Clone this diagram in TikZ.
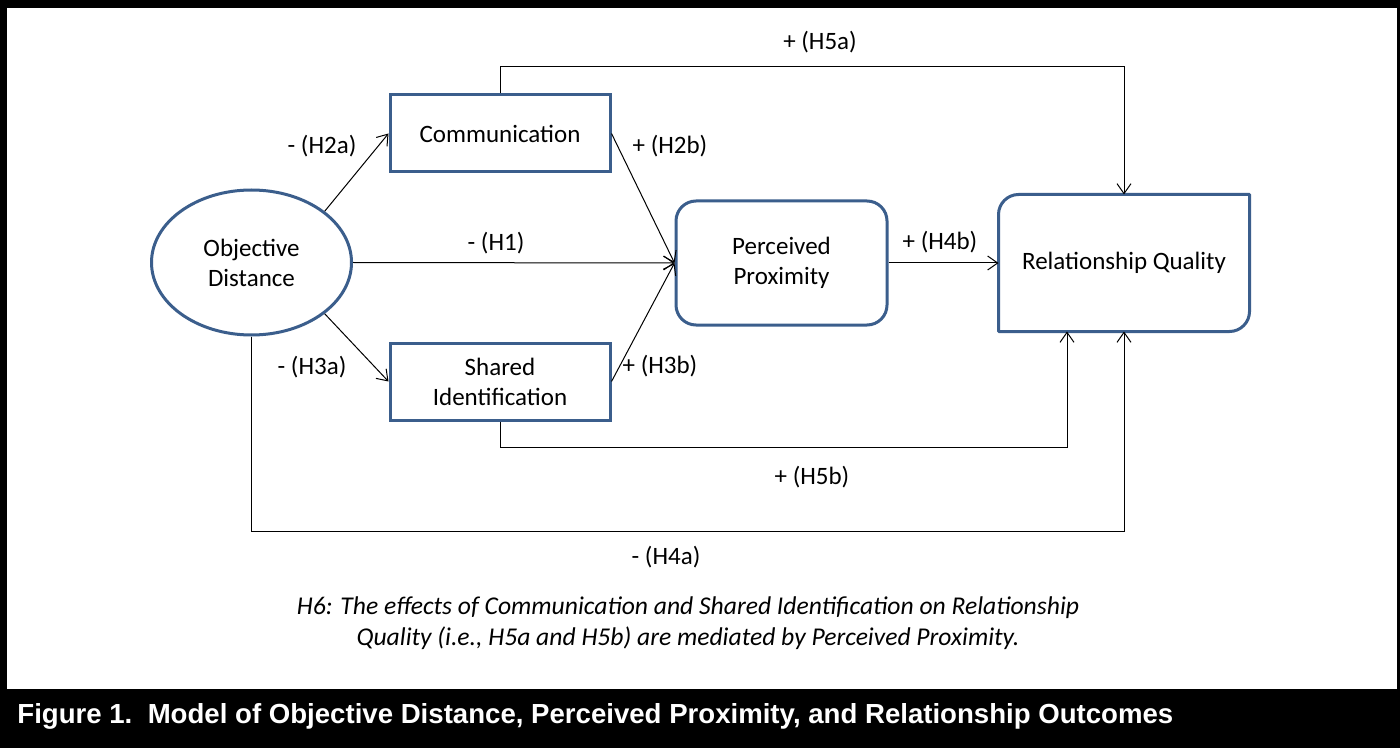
\documentclass[tikz,border=0pt]{standalone}
\usepackage{fontspec}
\setmainfont{Carlito}
\newfontfamily\capfont{Liberation Sans}
\usetikzlibrary{arrows.meta,shapes.geometric,calc}
\definecolor{boxblue}{HTML}{3B5E8C}
\begin{document}
\begin{tikzpicture}[x=0.5pt,y=-0.5pt,
  txt/.style={font=\fontsize{12.5}{15}\selectfont,align=center,inner sep=0pt},
  box/.style={txt,draw=boxblue,line width=1.5pt,minimum width=110pt,minimum height=38.5pt},
  oval/.style={txt,ellipse,draw=boxblue,line width=1.5pt,minimum width=100pt,minimum height=72.5pt},
  roundbox/.style={txt,draw=boxblue,line width=1.5pt,rounded corners=10pt,minimum width=105.5pt,minimum height=62pt},
  rqbox/.style={txt,minimum width=124pt,minimum height=67pt,outer sep=0.75pt},
  outline/.style={draw=boxblue,line width=1.5pt,line join=round},
  lbl/.style={txt},
  arr/.style={draw=black,line width=0.5pt,-{Straight Barb[length=5pt,width=7pt]}},
  ln/.style={draw=black,line width=0.5pt}
]
\useasboundingbox (0,0) rectangle (1400,748);
\fill[black] (0,0) rectangle (1400,748);
\fill[white] (7,8) rectangle (1397,689);

% nodes
\node[oval] (od) at (251.5,262.5) {Objective\\Distance};
\node[box] (comm) at (500,133.5) {Communication};
\node[box] (si) at (500,381.5) {Shared\\Identification};
\node[roundbox] (pp) at (781.5,263) {Perceived\\Proximity};
\node[rqbox] (rq) at (1124,263) {Relationship Quality};
\draw[outline] (rq.north east) -- ($(rq.north west)+(20,0)$)
  .. controls ($(rq.north west)+(9,0)$) and ($(rq.north west)+(0,9)$) .. ($(rq.north west)+(0,20)$)
  -- (rq.south west) -- ($(rq.south east)+(-20,0)$)
  .. controls ($(rq.south east)+(-9,0)$) and ($(rq.south east)+(0,-9)$) .. ($(rq.south east)+(0,-20)$)
  -- cycle;

% helper coordinates
\coordinate (top) at (0,67);
\coordinate (b5) at (1067,447);
\coordinate (b4) at (0,531);

% connectors
\draw[arr] (od.35) -- (comm.west);
\draw[arr] (od.-35) -- (si.west);
\draw[arr] (od.east) -- (pp.west);
\draw[arr] (comm.east) -- (pp.west);
\draw[arr] (si.east) -- (pp.west);
\draw[arr] (pp.east) -- (rq.west);
\draw[arr] (comm.north) -- (comm.north |- top) -| (rq.north);
\draw[arr] (si.south) |- (b5) -- (b5 |- rq.south);
\draw[arr] (od.south) -- (od.south |- b4) -| (rq.south);

% labels
\node[lbl] (l5a) at (820,42) {+ (H5a)};
\node[lbl] (l2a) at (322,146) {- (H2a)};
\node[lbl] (l2b) at (670,146) {+ (H2b)};
\node[lbl] (l1) at (496,243) {- (H1)};
\node[lbl] (l4b) at (940,242) {+ (H4b)};
\node[lbl] (l3a) at (312,367) {- (H3a)};
\node[lbl] (l3b) at (660,366) {+ (H3b)};
\node[lbl] (l5b) at (812,477) {+ (H5b)};
\node[lbl] (l4a) at (666,557) {- (H4a)};

\node[txt,font=\fontsize{12.8}{15.5}\selectfont\itshape] (h6) at (688,623.5)
  {H6: The effects of Communication and Shared Identification on Relationship\\Quality (i.e., H5a and H5b) are mediated by Perceived Proximity.};

\node[anchor=base west,inner sep=0pt,text=white,font=\capfont\bfseries\fontsize{13.8}{16}\selectfont] (cap) at (17,723)
  {Figure 1.\ \ Model of Objective Distance, Perceived Proximity, and Relationship Outcomes};
\end{tikzpicture}
\end{document}
